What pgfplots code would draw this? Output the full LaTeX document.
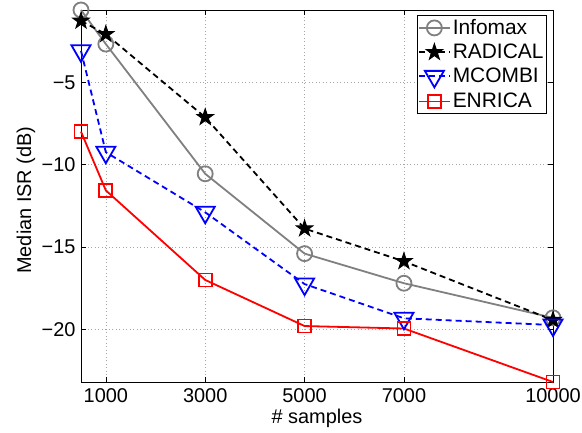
\documentclass[border=0pt]{standalone}
\usepackage{fontspec}
\setmainfont{Liberation Sans}
\usepackage{pgfplots}
\pgfplotsset{compat=1.18}
\usetikzlibrary{plotmarks}

% MATLAB-like five-pointed star
\pgfdeclareplotmark{pentagram}{%
  \pgfpathmoveto{\pgfpointpolar{90}{\pgfplotmarksize}}%
  \pgfpathlineto{\pgfpointpolar{126}{0.382\pgfplotmarksize}}%
  \pgfpathlineto{\pgfpointpolar{162}{\pgfplotmarksize}}%
  \pgfpathlineto{\pgfpointpolar{198}{0.382\pgfplotmarksize}}%
  \pgfpathlineto{\pgfpointpolar{234}{\pgfplotmarksize}}%
  \pgfpathlineto{\pgfpointpolar{270}{0.382\pgfplotmarksize}}%
  \pgfpathlineto{\pgfpointpolar{306}{\pgfplotmarksize}}%
  \pgfpathlineto{\pgfpointpolar{342}{0.382\pgfplotmarksize}}%
  \pgfpathlineto{\pgfpointpolar{18}{\pgfplotmarksize}}%
  \pgfpathlineto{\pgfpointpolar{54}{0.382\pgfplotmarksize}}%
  \pgfpathclose
  \pgfusepathqfillstroke}

\definecolor{mgray}{rgb}{0.5,0.5,0.5}
\newcommand{\bigf}{\fontsize{20}{24}\selectfont}

\begin{document}
\begin{tikzpicture}
\begin{axis}[
    at={(0,0)}, anchor=south west,
    scale only axis,
    width=472bp, height=372bp,
    xmin=500, xmax=10000,
    ymin=-23.2, ymax=-0.6,
    xtick={1000,3000,5000,7000,10000},
    xticklabels={1000,3000,5000,7000,10000},
    ytick={-20,-15,-10,-5},
    yticklabels={−20,−15,−10,−5},
    scaled x ticks=false,
    tick align=inside,
    major tick length=5bp,
    tick style={black, line width=0.6bp},
    axis line style={line width=0.8bp},
    grid=major,
    major grid style={line width=0.6bp, black!35, dash pattern=on 1bp off 2.5bp},
    tick label style={font=\bigf},
    label style={font=\bigf},
    xticklabel style={yshift=-3bp},
    yticklabel style={xshift=-2bp},
    xlabel={\# samples},
    ylabel={Median ISR (dB)},
    xlabel style={at={(rel axis cs:0.5,0)}, anchor=center, yshift=-36bp},
    ylabel style={at={(rel axis cs:0,0.489)}, anchor=center, yshift=55bp},
    clip=false,
    legend style={at={(0.987,0.986)}, anchor=north east,
        draw=black, line width=0.8bp, fill=white,
        font=\fontsize{21}{25}\selectfont,
        inner xsep=1bp, inner ysep=2bp,
        row sep=4bp,
        legend cell align=left},
    legend image code/.code={%
        \draw[mark repeat=2, mark phase=2]
        plot coordinates {(0bp,0bp) (15.5bp,0bp) (31bp,0bp)};},
]
\addplot[mgray, line width=1.8bp, mark=o, mark size=7.5bp,
    mark options={solid}]
    coordinates {(500,-0.6) (1000,-2.67) (3000,-10.55) (5000,-15.4) (7000,-17.2) (10000,-19.3)};
\addlegendentry{Infomax}
\addplot[black, line width=1.8bp, dash pattern=on 6bp off 4bp, mark=pentagram, mark size=8.5bp,
    mark options={solid, fill=black, line width=1bp}]
    coordinates {(500,-1.26) (1000,-2.07) (3000,-7.12) (5000,-13.88) (7000,-15.87) (10000,-19.44)};
\addlegendentry{RADICAL}
\addplot[blue, line width=1.8bp, dash pattern=on 6bp off 4bp, mark=triangle, mark size=11bp,
    mark options={solid, rotate=180}]
    coordinates {(500,-3.08) (1000,-9.24) (3000,-12.89) (5000,-17.25) (7000,-19.33) (10000,-19.74)};
\addlegendentry{MCOMBI}
\addplot[red, line width=1.8bp, mark=square, mark size=6.5bp,
    mark options={solid}]
    coordinates {(500,-7.99) (1000,-11.56) (3000,-17.0) (5000,-19.8) (7000,-19.95) (10000,-23.2)};
\addlegendentry{ENRICA}
\end{axis}
\pgfresetboundingbox
\path[use as bounding box] (-81bp,-51bp) rectangle (501bp,382bp);
\end{tikzpicture}
\end{document}
